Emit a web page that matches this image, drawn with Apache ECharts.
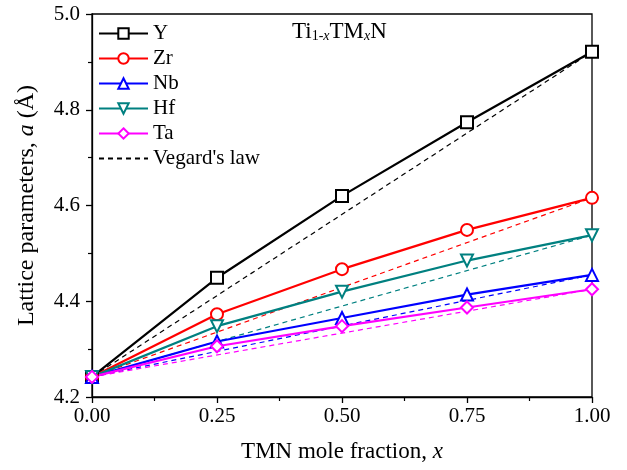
<!DOCTYPE html>
<html>
<head>
<meta charset="utf-8">
<script src="https://cdn.jsdelivr.net/npm/echarts@6/dist/echarts.min.js"></script>
<style>
  html, body { margin: 0; padding: 0; background: #fff; }
  #main { width: 627px; height: 470px; }
</style>
</head>
<body>
<div id="main"></div>
<script>
// mole fraction x of TMN
var xFrac = [0, 0.25, 0.5, 0.75, 1.0];
// lattice parameters (Å)
var latY  = [4.242, 4.449, 4.620, 4.774, 4.921];
var latZr = [4.242, 4.373, 4.467, 4.549, 4.616];
var latNb = [4.242, 4.316, 4.365, 4.414, 4.455];
var latHf = [4.242, 4.348, 4.420, 4.485, 4.538];
var latTa = [4.242, 4.306, 4.348, 4.387, 4.425];
// Vegard's law end points
var vegX = [0, 1.0];
var vegY  = [4.242, 4.921];
var vegZr = [4.242, 4.616];
var vegNb = [4.242, 4.455];
var vegHf = [4.242, 4.538];
var vegTa = [4.242, 4.425];

var serif = '"Liberation Serif", "DejaVu Serif", serif';

function pairs(xs, ys) {
    return xs.map(function (x, i) { return [x, ys[i]]; });
}

function mainLine(name, data, color, symbol, rotate) {
    return {
        name: name,
        type: 'line',
        data: pairs(xFrac, data),
        symbol: symbol,
        symbolSize: 12,
        symbolRotate: rotate || 0,
        showAllSymbol: true,
        z: 3,
        lineStyle: { color: color, width: 2.2 },
        itemStyle: { color: color, borderColor: color, borderWidth: 1.8 }
    };
}

function vegLine(data, color) {
    return {
        name: "Vegard's law",
        type: 'line',
        data: pairs(vegX, data),
        symbol: 'none',
        z: 2,
        lineStyle: { color: color, width: 1.2, type: [5, 4] },
        itemStyle: { color: color }
    };
}

var myChart = echarts.init(document.getElementById('main'));

var option = {
    animation: false,
    backgroundColor: '#fff',
    textStyle: { fontFamily: serif },
    grid: {
        left: 92, right: 35, top: 14, bottom: 73,
        show: true, borderColor: '#000', borderWidth: 1.3
    },
    legend: {
        data: ['Y', 'Zr', 'Nb', 'Hf', 'Ta', { name: "Vegard's law", itemStyle: { opacity: 0 } }],
        orient: 'vertical',
        left: 98,
        top: 23,
        padding: 0,
        itemWidth: 49,
        itemHeight: 13,
        itemGap: 4,
        textStyle: { fontFamily: serif, fontSize: 21, color: '#000' }
    },
    graphic: [{
        type: 'text',
        left: 292,
        top: 20,
        style: {
            text: '{n|Ti}{s|1-}{si|x}{n|TM}{si|x}{n|N}',
            rich: {
                n: { fontFamily: serif, fontSize: 23, fill: '#000', verticalAlign: 'bottom' },
                s: { fontFamily: serif, fontSize: 14, fill: '#000', verticalAlign: 'bottom' },
                si: { fontFamily: serif, fontSize: 14, fontStyle: 'italic', fill: '#000', verticalAlign: 'bottom' }
            }
        }
    }],
    xAxis: {
        type: 'value',
        min: 0, max: 1, interval: 0.25,
        name: '{n|TMN mole fraction, }{i|x}',
        nameLocation: 'middle',
        nameGap: 43,
        nameTextStyle: {
            rich: {
                n: { fontFamily: serif, fontSize: 23, color: '#000' },
                i: { fontFamily: serif, fontSize: 23, fontStyle: 'italic', color: '#000' }
            }
        },
        axisLine: { lineStyle: { color: '#000', width: 1.3 } },
        axisTick: { show: true, length: 6, inside: false, lineStyle: { color: '#000', width: 1.3 } },
        minorTick: { show: true, splitNumber: 2, length: 4, lineStyle: { color: '#000', width: 1.2 } },
        splitLine: { show: false },
        axisLabel: {
            fontFamily: serif, fontSize: 21, color: '#000', margin: 9,
            formatter: function (v) { return v.toFixed(2); }
        }
    },
    yAxis: {
        type: 'value',
        min: 4.2, max: 5.0, interval: 0.2,
        name: '{n|Lattice parameters, }{i|a}{n| (Å)}',
        nameLocation: 'middle',
        nameGap: 53,
        nameTextStyle: {
            rich: {
                n: { fontFamily: serif, fontSize: 24, color: '#000' },
                i: { fontFamily: serif, fontSize: 24, fontStyle: 'italic', color: '#000' }
            }
        },
        axisLine: { show: true, lineStyle: { color: '#000', width: 1.3 } },
        axisTick: { show: true, length: 6, inside: false, lineStyle: { color: '#000', width: 1.3 } },
        minorTick: { show: true, splitNumber: 2, length: 4, lineStyle: { color: '#000', width: 1.2 } },
        splitLine: { show: false },
        axisLabel: {
            fontFamily: serif, fontSize: 21, color: '#000', margin: 12,
            formatter: function (v) { return v.toFixed(1); }
        }
    },
    series: [
        vegLine(vegY, '#000000'),
        vegLine(vegZr, '#ff0000'),
        vegLine(vegNb, '#0000ff'),
        vegLine(vegHf, '#008080'),
        vegLine(vegTa, '#ff00ff'),
        mainLine('Y', latY, '#000000', 'emptyRect'),
        mainLine('Zr', latZr, '#ff0000', 'emptyCircle'),
        mainLine('Nb', latNb, '#0000ff', 'emptyTriangle'),
        mainLine('Hf', latHf, '#008080', 'emptyTriangle', 180),
        mainLine('Ta', latTa, '#ff00ff', 'emptyDiamond')
    ]
};
myChart.setOption(option);
</script>
</body>
</html>
